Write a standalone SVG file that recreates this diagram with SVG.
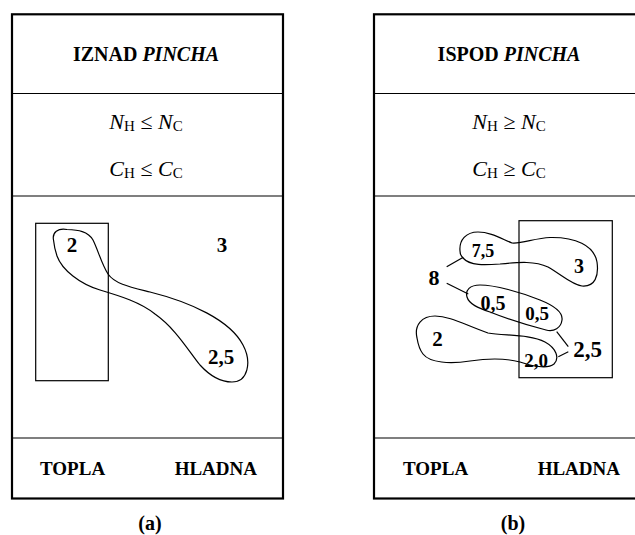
<svg xmlns="http://www.w3.org/2000/svg" width="635" height="535" viewBox="0 0 635 535">
<style>
  text { font-family: "Liberation Serif", "Times New Roman", "DejaVu Serif", serif; fill: #000; }
  .b { font-weight: bold; }
  .i { font-style: italic; }
  .frame { fill: none; stroke: #000; stroke-width: 2.2; }
  .div { fill: none; stroke: #000; stroke-width: 1.2; }
  .box { fill: none; stroke: #000; stroke-width: 1.2; }
  .blob { fill: none; stroke: #000; stroke-width: 1.2; }
  .lnk { fill: none; stroke: #000; stroke-width: 1.2; }
  .t { font-size: 20px; font-weight: bold; text-anchor: middle; }
  .f { font-size: 22px; text-anchor: middle; }
  .sub { font-size: 15px; }
  .n { font-weight: bold; text-anchor: middle; }
</style>

<g id="panel-a">
  <rect class="frame" x="12" y="14.3" width="271" height="484.2"/>
  <line class="div" x1="12" y1="93.5" x2="283" y2="93.5"/>
  <line class="div" x1="12" y1="196" x2="283" y2="196"/>
  <line class="div" x1="12" y1="438" x2="283" y2="438"/>
  <text class="t" x="146" y="61">IZNAD <tspan class="i">PINCHA</tspan></text>
  <text class="f" x="146" y="128.5"><tspan class="i">N</tspan><tspan class="sub" dy="2">H</tspan><tspan dy="-2"> ≤ </tspan><tspan class="i">N</tspan><tspan class="sub" dy="2">C</tspan></text>
  <text class="f" x="146" y="175.5"><tspan class="i">C</tspan><tspan class="sub" dy="2">H</tspan><tspan dy="-2"> ≤ </tspan><tspan class="i">C</tspan><tspan class="sub" dy="2">C</tspan></text>
  <text class="b" x="40" y="475" font-size="19">TOPLA</text>
  <text class="b" x="257" y="475" font-size="19" text-anchor="end">HLADNA</text>
  <text class="t" x="150" y="530">(a)</text>
</g>

<g id="hot-a">
  <rect class="box" x="35.7" y="223.3" width="72.6" height="157.4"/>
</g>
<g id="stream-a">
  <path class="blob" d="M 53.5,240 C 52,232 58,228 67,229.5 C 78,230 88,231 93,240 C 98,250 102,265 108,274 C 115,284 130,287 150,292 C 190,302 230,320 243,345 C 252,362 248,382 232,382 C 220,382 210,376 200,365 C 188,350 175,328 155,314 C 140,302 120,296 100,290 C 80,284 62,270 57,256 C 55,250 54,245 53.5,240 Z"/>
  <text class="n" x="72" y="251.5" font-size="21">2</text>
  <text class="n" x="221" y="364" font-size="21">2,5</text>
</g>
<g id="label-3a">
  <text class="n" x="222" y="251.5" font-size="21">3</text>
</g>

<g id="panel-b">
  <rect class="frame" x="374" y="14.3" width="271" height="484.2"/>
  <line class="div" x1="374" y1="93.5" x2="645" y2="93.5"/>
  <line class="div" x1="374" y1="196" x2="645" y2="196"/>
  <line class="div" x1="374" y1="438" x2="645" y2="438"/>
  <text class="t" x="509" y="61">ISPOD <tspan class="i">PINCHA</tspan></text>
  <text class="f" x="509" y="128.5"><tspan class="i">N</tspan><tspan class="sub" dy="2">H</tspan><tspan dy="-2"> ≥ </tspan><tspan class="i">N</tspan><tspan class="sub" dy="2">C</tspan></text>
  <text class="f" x="509" y="175.5"><tspan class="i">C</tspan><tspan class="sub" dy="2">H</tspan><tspan dy="-2"> ≥ </tspan><tspan class="i">C</tspan><tspan class="sub" dy="2">C</tspan></text>
  <text class="b" x="403" y="475" font-size="19">TOPLA</text>
  <text class="b" x="620" y="475" font-size="19" text-anchor="end">HLADNA</text>
  <text class="t" x="513" y="530">(b)</text>
</g>

<g id="cold-b">
  <rect class="box" x="519" y="220.7" width="93.3" height="157"/>
</g>
<g id="match-75-3">
  <path class="blob" d="M 460,251 C 459,240 466,232 478,232 C 490,232 500,238 512,243 C 522,244 535,238 550,237.5 C 575,237 594,245 597,262 C 599,276 595,287 582,286 C 572,285 562,275 548,267 C 535,261 520,262 500,264 C 485,265 470,266 463,258 C 461,256 460,254 460,251 Z"/>
  <text class="n" x="483" y="256.5" font-size="18">7,5</text>
  <text class="n" x="579" y="272.5" font-size="20">3</text>
</g>
<g id="match-05-05">
  <path class="blob" d="M 467,297 C 465,290 470,285 480,285 C 495,285 520,292 540,300 C 555,306 563,313 562,320 C 561,328 554,332 546,330 C 530,326 510,320 490,312 C 478,308 469,304 467,297 Z"/>
  <text class="n" x="493" y="309.5" font-size="20">0,5</text>
  <text class="n" x="537" y="320" font-size="19">0,5</text>
</g>
<g id="match-2-20">
  <path class="blob" d="M 417,338 C 414,325 422,316 435,316 C 450,316 465,325 488,333 C 505,336 530,334 545,342 C 556,348 560,358 554,364 C 548,369 535,367 520,362 C 505,358 490,358 470,361 C 450,364 430,363 423,354 C 419,349 418,344 417,338 Z"/>
  <text class="n" x="437.5" y="345.5" font-size="21">2</text>
  <text class="n" x="536" y="366.5" font-size="19">2,0</text>
</g>
<g id="label-8">
  <text class="n" x="434" y="285" font-size="22">8</text>
</g>
<g id="label-25">
  <text class="n" x="587.5" y="357" font-size="23">2,5</text>
</g>

<g id="connectors">
  <line class="lnk" x1="446.7" y1="266.7" x2="463.3" y2="257.3"/>
  <line class="lnk" x1="446.7" y1="283.3" x2="468.3" y2="294"/>
  <line class="lnk" x1="568.3" y1="346.7" x2="556.7" y2="331.7"/>
  <line class="lnk" x1="568.3" y1="351.7" x2="558.3" y2="356.7"/>
</g>
</svg>
